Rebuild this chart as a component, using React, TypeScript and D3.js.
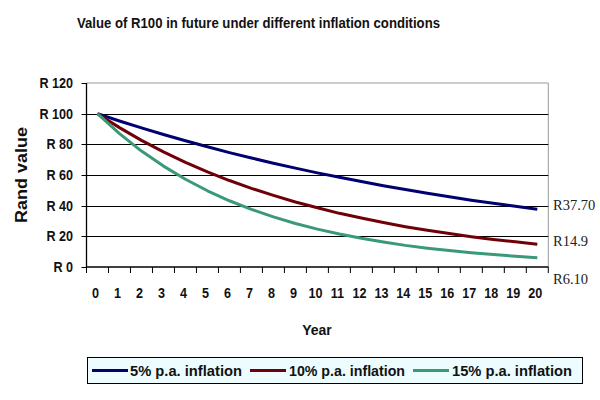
import React from "react";
import * as d3 from "d3";

// Years on the category axis
const years: number[] = [0, 1, 2, 3, 4, 5, 6, 7, 8, 9, 10, 11, 12, 13, 14, 15, 16, 17, 18, 19, 20];

// Value (Rand) of R100 after each year
const inflation5: number[] = [100, 95.2, 90.7, 86.4, 82.3, 78.4, 74.6, 71.1, 67.7, 64.5, 61.4, 58.5, 55.7, 53.0, 50.5, 48.1, 45.8, 43.6, 41.6, 39.6, 37.7];
const inflation10: number[] = [100, 90.9, 82.6, 75.1, 68.3, 62.1, 56.4, 51.3, 46.7, 42.4, 38.6, 35.0, 31.9, 29.0, 26.3, 23.9, 21.8, 19.8, 18.0, 16.4, 14.9];
const inflation15: number[] = [100, 87.0, 75.6, 65.8, 57.2, 49.7, 43.2, 37.6, 32.7, 28.4, 24.7, 21.5, 18.7, 16.3, 14.1, 12.3, 10.7, 9.3, 8.1, 7.0, 6.1];

const seriesNames: string[] = ["5% p.a. inflation", "10% p.a. inflation", "15% p.a. inflation"];
const endLabels: string[] = ["R37.70", "R14.9", "R6.10"];
const yTicks: number[] = [0, 20, 40, 60, 80, 100, 120];

const colors = ["#000070", "#700008", "#3a9a78"];
const endLabelOffsets = [1, 1.5, 26.5];

const W = 600;
const H = 400;
const plot = { left: 86.5, right: 548.3, top: 83, bottom: 267 };

export default function App() {
  const series = [inflation5, inflation10, inflation15];

  const x = d3
    .scaleBand<number>()
    .domain(years)
    .range([plot.left, plot.right])
    .paddingInner(0)
    .paddingOuter(0);
  const y = d3.scaleLinear().domain([0, 120]).range([plot.bottom, plot.top]);

  const cx = (yr: number) => (x(yr) as number) + x.bandwidth() / 2;

  const line = d3
    .line<number>()
    .x((_, i) => cx(years[i]))
    .y((v) => y(v));

  const bold = "'Liberation Sans', Arial, sans-serif";
  const boundaries = years.map((yr) => x(yr) as number).concat([plot.right]);

  // legend layout
  const legend = { x: 87, y: 357, w: 495, h: 26 };
  const legendItems = [
    { lx: 92, tx: 130, tw: 112 },
    { lx: 250, tx: 289, tw: 116 },
    { lx: 413, tx: 452, tw: 120 },
  ];

  return (
    <svg
      width={W}
      height={H}
      style={{ position: "absolute", left: 0, top: 0, background: "#fff" }}
    >
      <rect x={0} y={0} width={W} height={H} fill="#fff" />

      {/* title */}
      <text
        x={258.5}
        y={28}
        textAnchor="middle"
        fontFamily={bold}
        fontWeight="bold"
        fontSize={15}
        textLength={363}
        lengthAdjust="spacingAndGlyphs"
        fill="#111"
      >
        Value of R100 in future under different inflation conditions
      </text>

      {/* plot frame */}
      <line x1={plot.left} x2={plot.right} y1={plot.top} y2={plot.top} stroke="#999" strokeWidth={1} />
      <line x1={plot.right} x2={plot.right} y1={plot.top} y2={plot.bottom} stroke="#999" strokeWidth={1} />

      {/* gridlines */}
      {yTicks
        .filter((t) => t > 0 && t < 120)
        .map((t) => (
          <line
            key={"g" + t}
            x1={plot.left}
            x2={plot.right}
            y1={Math.round(y(t)) + 0.5}
            y2={Math.round(y(t)) + 0.5}
            stroke="#000"
            strokeWidth={1}
          />
        ))}

      {/* y axis */}
      <line x1={plot.left} x2={plot.left} y1={plot.top} y2={plot.bottom} stroke="#000" strokeWidth={1.3} />
      {yTicks.map((t) => (
        <g key={"yt" + t}>
          <line
            x1={plot.left - 5}
            x2={plot.left}
            y1={Math.round(y(t)) + 0.5}
            y2={Math.round(y(t)) + 0.5}
            stroke="#000"
            strokeWidth={1}
          />
          <g transform={`translate(73,${y(t) + 5}) scale(0.9,1)`}>
            <text x={0} y={0} textAnchor="end" fontFamily={bold} fontWeight="bold" fontSize={14} fill="#111">
              {"R " + t}
            </text>
          </g>
        </g>
      ))}

      {/* x axis */}
      <line x1={plot.left} x2={plot.right} y1={plot.bottom} y2={plot.bottom} stroke="#000" strokeWidth={1.3} />
      {boundaries.map((bx, i) => (
        <line key={"xt" + i} x1={bx} x2={bx} y1={plot.bottom} y2={plot.bottom + 6} stroke="#000" strokeWidth={1} />
      ))}
      {years.map((yr) => (
        <g key={"xl" + yr} transform={`translate(${cx(yr) - 2},298) scale(0.9,1)`}>
          <text x={0} y={0} textAnchor="middle" fontFamily={bold} fontWeight="bold" fontSize={14} fill="#111">
            {yr}
          </text>
        </g>
      ))}

      {/* axis titles */}
      <text x={317} y={335} textAnchor="middle" fontFamily={bold} fontWeight="bold" fontSize={14} fill="#111">
        Year
      </text>
      <text
        transform="translate(26.5,175) rotate(-90)"
        textAnchor="middle"
        fontFamily={bold}
        fontWeight="bold"
        fontSize={16}
        textLength={96}
        lengthAdjust="spacingAndGlyphs"
        fill="#111"
      >
        Rand value
      </text>

      {/* series lines */}
      {series.map((s, i) => (
        <path
          key={"s" + i}
          d={line(s) || ""}
          fill="none"
          stroke={colors[i]}
          strokeWidth={3}
          strokeLinejoin="round"
        />
      ))}

      {/* end-value labels */}
      {series.map((s, i) => (
        <text
          key={"el" + i}
          x={553}
          y={y(s[s.length - 1]) + endLabelOffsets[i]}
          fontFamily="'Liberation Serif', 'Times New Roman', serif"
          fontSize={14.5}
          fill="#222"
        >
          {endLabels[i]}
        </text>
      ))}

      {/* legend */}
      <rect
        x={legend.x + 0.5}
        y={legend.y + 0.5}
        width={legend.w}
        height={legend.h}
        fill="#ecfcff"
        stroke="#000"
        strokeWidth={1}
      />
      {seriesNames.map((name, i) => (
        <g key={"lg" + i}>
          <line
            x1={legendItems[i].lx}
            x2={legendItems[i].lx + 36}
            y1={370.5}
            y2={370.5}
            stroke={colors[i]}
            strokeWidth={3}
          />
          <text
            x={legendItems[i].tx}
            y={375.5}
            fontFamily={bold}
            fontWeight="bold"
            fontSize={14}
            textLength={legendItems[i].tw}
            lengthAdjust="spacingAndGlyphs"
            fill="#111"
          >
            {name}
          </text>
        </g>
      ))}
    </svg>
  );
}
